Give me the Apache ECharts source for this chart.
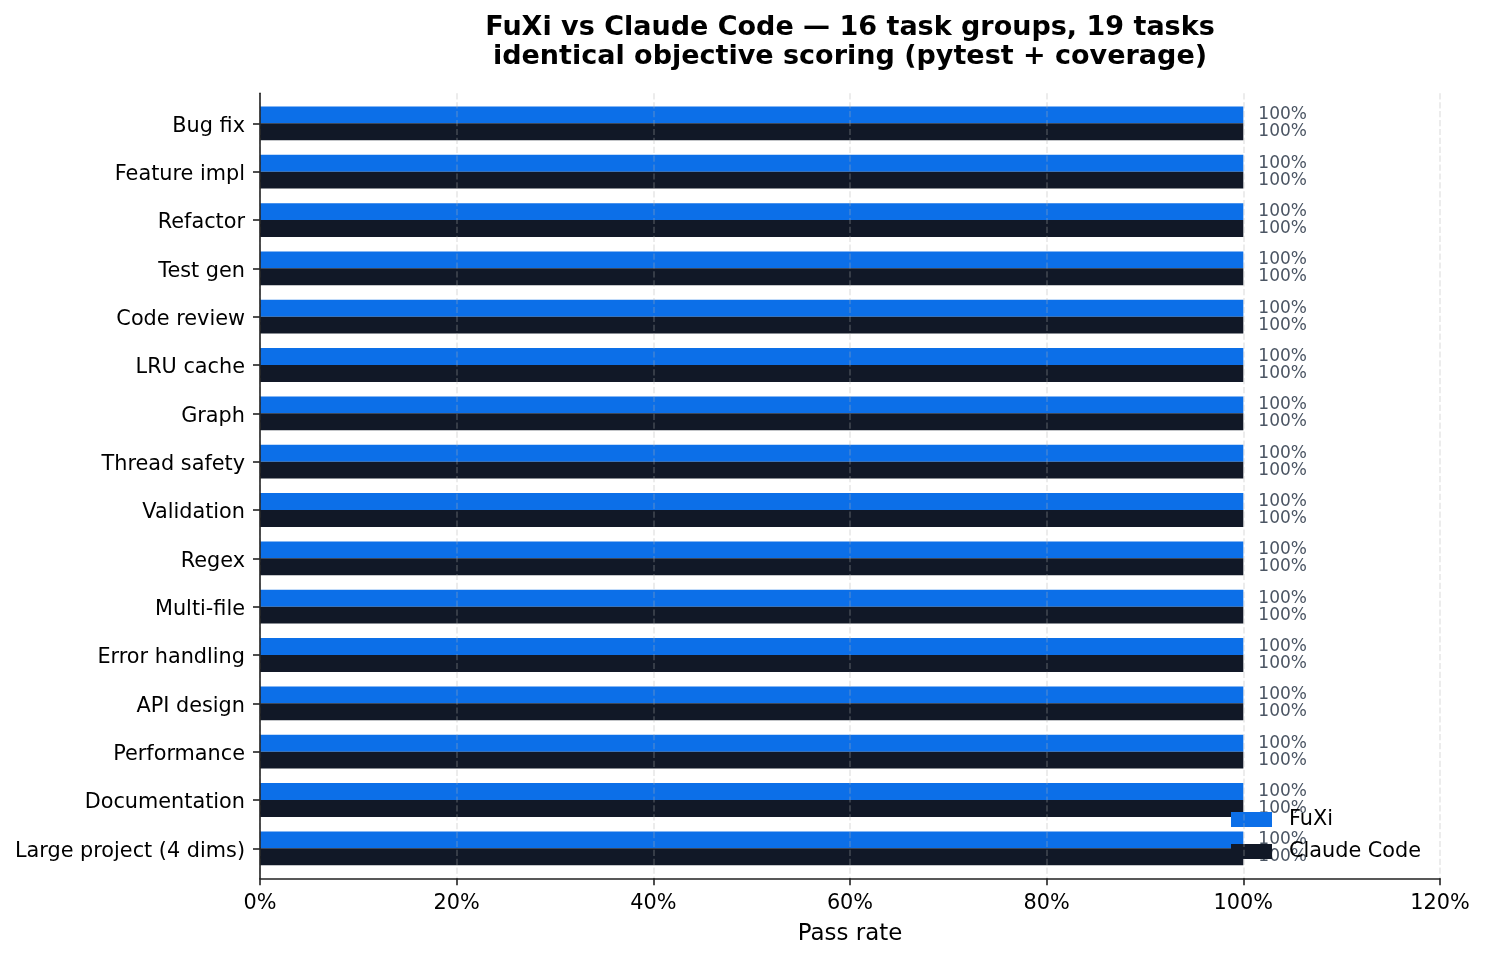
<!DOCTYPE html>
<html>
<head>
<meta charset="utf-8">
<script src="https://cdn.jsdelivr.net/npm/echarts@6/dist/echarts.min.js"></script>
<style>
html,body{margin:0;padding:0;background:#fff;}
#chart{width:1485px;height:960px;}
</style>
</head>
<body>
<div id="chart"></div>
<script>
const categories = ["Bug fix","Feature impl","Refactor","Test gen","Code review","LRU cache","Graph","Thread safety","Validation","Regex","Multi-file","Error handling","API design","Performance","Documentation","Large project (4 dims)"];
const fuxiValues = [100,100,100,100,100,100,100,100,100,100,100,100,100,100,100,100];
const claudeValues = [100,100,100,100,100,100,100,100,100,100,100,100,100,100,100,100];
const xTicks = [0,20,40,60,80,100,120];

const FONT = "DejaVu Sans";
const chart = echarts.init(document.getElementById('chart'), null, {renderer:'canvas'});
const option = {
  backgroundColor:'#fff',
  animation:false,
  textStyle:{fontFamily:FONT},
  title:{
    text:"FuXi vs Claude Code — 16 task groups, 19 tasks\nidentical objective scoring (pytest + coverage)",
    left:850, top:13.5, padding:0, textAlign:'center',
    textStyle:{fontFamily:FONT,fontSize:27,fontWeight:'bold',color:'#000',lineHeight:29}
  },
  legend:{
    data:['FuXi','Claude Code'], orient:'vertical', left:1231, top:808, padding:0,
    itemWidth:41, itemHeight:15, itemGap:9, icon:'rect',
    textStyle:{fontFamily:FONT,fontSize:20.8,color:'#000',lineHeight:20,padding:[3,0,0,12]}
  },
  grid:[
    {left:260, right:45, top:99.2, bottom:87.5, containLabel:false},
    {left:260, right:45, top:93.3, bottom:81.7, containLabel:false}
  ],
  xAxis:[
    {gridIndex:0, type:'value', min:0, max:120, interval:20, show:false},
    {gridIndex:1, type:'value', min:xTicks[0], max:xTicks[xTicks.length-1], interval:20, z:5,
     name:'Pass rate', nameLocation:'middle', nameGap:44,
     nameTextStyle:{fontFamily:FONT,fontSize:22.9,color:'#000'},
     axisLine:{show:true,lineStyle:{color:'#222',width:1.6}},
     axisTick:{show:true,length:7,lineStyle:{color:'#222',width:1.6}},
     axisLabel:{margin:15,fontFamily:FONT,fontSize:20.8,color:'#000',formatter:'{value}%'},
     splitLine:{show:true,lineStyle:{color:'rgba(176,176,176,0.3)',width:1.6,type:[6.2,2.7]}}
    }
  ],
  yAxis:[
    {gridIndex:0, type:'category', data:categories, inverse:true,
     axisLine:{show:false},
     axisTick:{show:true,alignWithLabel:true,length:7,lineStyle:{color:'#222',width:1.6}},
     axisLabel:{margin:15,fontFamily:FONT,fontSize:20.8,color:'#000',
       formatter:'{a|{value}}',
       rich:{a:{fontFamily:FONT,fontSize:20.8,color:'#000',padding:[6,0,0,0]}}}
    },
    {gridIndex:1, type:'value', min:0, max:1, z:5,
     axisLine:{show:true,lineStyle:{color:'#222',width:1.6}},
     axisTick:{show:false}, axisLabel:{show:false}, splitLine:{show:false}
    }
  ],
  series:[
    {name:'FuXi', type:'bar', xAxisIndex:0, yAxisIndex:0, data:fuxiValues,
     barWidth:16.9, barGap:'0%', itemStyle:{color:'#0c6fe8'},
     label:{show:true,position:'right',distance:15,formatter:'{c}%',fontFamily:FONT,fontSize:17,color:'#4b5563'}},
    {name:'Claude Code', type:'bar', xAxisIndex:0, yAxisIndex:0, data:claudeValues,
     barWidth:16.9, barGap:'0%', itemStyle:{color:'#111827'},
     label:{show:true,position:'right',distance:15,formatter:'{c}%',fontFamily:FONT,fontSize:17,color:'#4b5563'}}
  ]
};
chart.setOption(option);
</script>
</body>
</html>
